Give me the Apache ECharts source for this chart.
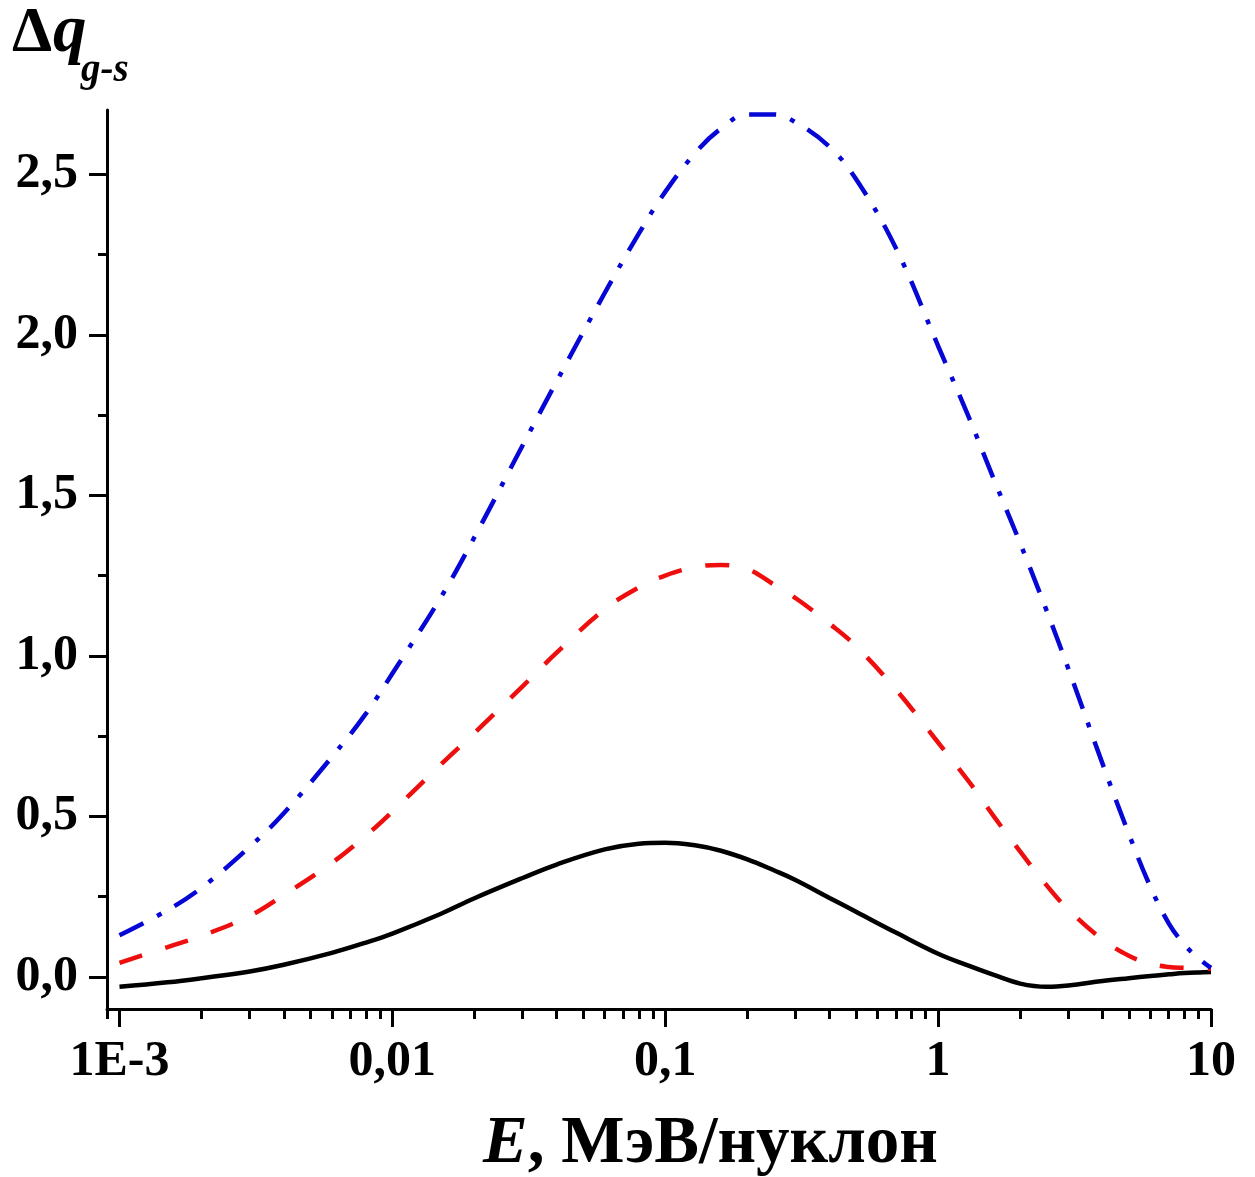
<!DOCTYPE html>
<html>
<head>
<meta charset="utf-8">
<script src="https://cdn.jsdelivr.net/npm/echarts@6/dist/echarts.min.js"></script>
<style>
  html, body { margin: 0; padding: 0; background: #fff; }
  #chart { width: 1255px; height: 1177px; }
</style>
</head>
<body>
<div id="chart"></div>
<script>
// Energy grid, MeV/nucleon
const energy = [0.001, 0.0015, 0.002, 0.003, 0.004, 0.006, 0.008, 0.01, 0.015, 0.02, 0.03, 0.04,
  0.06, 0.08, 0.1, 0.13, 0.16, 0.2, 0.25, 0.3, 0.4, 0.5, 0.7, 1, 1.3, 1.6, 2, 2.5, 3, 4, 5, 6, 7, 8, 9, 10];

// Δq(g-s) curves
const qSolid = [-0.031, -0.017, -0.004, 0.017, 0.038, 0.075, 0.107, 0.135, 0.196, 0.245, 0.308, 0.350,
  0.397, 0.415, 0.418, 0.409, 0.393, 0.366, 0.332, 0.302, 0.246, 0.203, 0.138, 0.072, 0.034, 0.006,
  -0.021, -0.031, -0.027, -0.013, -0.004, 0.003, 0.008, 0.012, 0.014, 0.015];
const qDashed = [0.044, 0.093, 0.128, 0.19, 0.255, 0.355, 0.44, 0.515, 0.66, 0.76, 0.905, 1.01,
  1.145, 1.213, 1.25, 1.277, 1.283, 1.27, 1.222, 1.18, 1.10, 1.03, 0.895, 0.73, 0.607, 0.50,
  0.39, 0.285, 0.21, 0.117, 0.066, 0.041, 0.031, 0.028, 0.027, 0.025];
const qDashDot = [0.13, 0.208, 0.278, 0.405, 0.51, 0.685, 0.82, 0.945, 1.18, 1.37, 1.655, 1.855,
  2.13, 2.315, 2.445, 2.57, 2.642, 2.686, 2.686, 2.662, 2.585, 2.485, 2.27, 1.965, 1.74, 1.55,
  1.35, 1.14, 0.96, 0.665, 0.445, 0.28, 0.167, 0.10, 0.058, 0.028];

// Axis ticks
const xMajorTicks = [0.001, 0.01, 0.1, 1, 10];
const xMajorLabels = ['1E-3', '0,01', '0,1', '1', '10'];
const xMinorTicks = [0.0009,
  0.002, 0.003, 0.004, 0.005, 0.006, 0.007, 0.008, 0.009,
  0.02, 0.03, 0.04, 0.05, 0.06, 0.07, 0.08, 0.09,
  0.2, 0.3, 0.4, 0.5, 0.6, 0.7, 0.8, 0.9,
  2, 3, 4, 5, 6, 7, 8, 9];
const yMajorTicks = [0, 0.5, 1.0, 1.5, 2.0, 2.5];
const yMajorLabels = ['0,0', '0,5', '1,0', '1,5', '2,0', '2,5'];
const yMinorTicks = [0.25, 0.75, 1.25, 1.75, 2.25];

const pair = (ys) => energy.map((e, i) => [e, ys[i]]);
const SERIF = '"Liberation Serif", "Times New Roman", serif';
const X_MIN = 0.0009, X_MAX = 10, Y_MIN = -0.1, Y_MAX = 2.7;

const chart = echarts.init(document.getElementById('chart'), null, { renderer: 'canvas' });

const xLabel = (v) => {
  let best = 0;
  xMajorTicks.forEach((t, i) => {
    if (Math.abs(Math.log10(t) - Math.log10(v)) < Math.abs(Math.log10(xMajorTicks[best]) - Math.log10(v))) best = i;
  });
  return xMajorLabels[best];
};
const yLabel = (v) => {
  const i = yMajorTicks.findIndex(t => Math.abs(t - v) < 1e-6);
  return i >= 0 ? yMajorLabels[i] : '';
};

chart.setOption({
  animation: false,
  backgroundColor: '#fff',
  grid: { left: 107, right: 44, top: 110, bottom: 168, containLabel: false },
  xAxis: [
    {
      type: 'log', logBase: 10, min: X_MIN, max: X_MAX,
      axisLine: { show: true, onZero: false, lineStyle: { color: '#000', width: 3 } },
      axisTick: { show: true, inside: false, length: 18, customValues: xMajorTicks,
        lineStyle: { color: '#000', width: 3 } },
      axisLabel: { show: true, margin: 28, customValues: xMajorTicks, formatter: xLabel,
        fontFamily: SERIF, fontWeight: 'bold', fontSize: 50, color: '#000' },
      splitLine: { show: false }, minorTick: { show: false }
    },
    {
      type: 'log', logBase: 10, min: X_MIN, max: X_MAX, position: 'bottom',
      axisLine: { show: false, onZero: false },
      axisTick: { show: true, inside: false, length: 10, customValues: xMinorTicks,
        lineStyle: { color: '#000', width: 3 } },
      axisLabel: { show: false, customValues: xMinorTicks },
      splitLine: { show: false }
    }
  ],
  yAxis: [
    {
      type: 'value', min: Y_MIN, max: Y_MAX, position: 'left',
      axisLine: { show: true, onZero: false, lineStyle: { color: '#000', width: 3 } },
      axisTick: { show: true, inside: false, length: 18, customValues: yMajorTicks,
        lineStyle: { color: '#000', width: 3 } },
      axisLabel: { show: true, margin: 29, customValues: yMajorTicks, formatter: yLabel,
        fontFamily: SERIF, fontWeight: 'bold', fontSize: 50, color: '#000' },
      splitLine: { show: false }
    },
    {
      type: 'value', min: Y_MIN, max: Y_MAX, position: 'left', offset: 0,
      axisLine: { show: false, onZero: false },
      axisTick: { show: true, inside: false, length: 9, customValues: yMinorTicks,
        lineStyle: { color: '#000', width: 3 } },
      axisLabel: { show: false, customValues: yMinorTicks },
      splitLine: { show: false }
    }
  ],
  series: [
    {
      name: 'solid', type: 'line', xAxisIndex: 0, yAxisIndex: 0, data: pair(qSolid),
      smooth: 0.4, showSymbol: false,
      lineStyle: { color: '#000000', width: 4.5 }
    },
    {
      name: 'dashed', type: 'line', xAxisIndex: 0, yAxisIndex: 0, data: pair(qDashed),
      smooth: 0.4, showSymbol: false,
      lineStyle: { color: '#ee0e0e', width: 4.5, type: [24, 24] }
    },
    {
      name: 'dashdot', type: 'line', xAxisIndex: 0, yAxisIndex: 0, data: pair(qDashDot),
      smooth: 0.4, showSymbol: false,
      lineStyle: { color: '#0606d6', width: 4.5, type: [27, 15, 5, 15] }
    }
  ],
  graphic: [
    { type: 'text', x: 12, y: 66, style: { text: 'Δ', fill: '#000',
        font: 'bold 64px ' + SERIF, align: 'left', verticalAlign: 'bottom' } },
    { type: 'text', x: 53, y: 67, style: { text: 'q', fill: '#000',
        font: 'italic bold 67px ' + SERIF, align: 'left', verticalAlign: 'bottom' } },
    { type: 'text', x: 81, y: 90, style: { text: 'g-s', fill: '#000',
        font: 'italic bold 39px ' + SERIF, align: 'left', verticalAlign: 'bottom' } },
    { type: 'text', x: 483, y: 1178, style: {
        text: '{e|E}{r|, МэВ/нуклон}', align: 'left', verticalAlign: 'bottom',
        rich: {
          e: { fontFamily: SERIF, fontStyle: 'italic', fontWeight: 'bold', fontSize: 67, fill: '#000', color: '#000' },
          r: { fontFamily: SERIF, fontWeight: 'bold', fontSize: 67, fill: '#000', color: '#000' }
        } } }
  ]
});
</script>
</body>
</html>
